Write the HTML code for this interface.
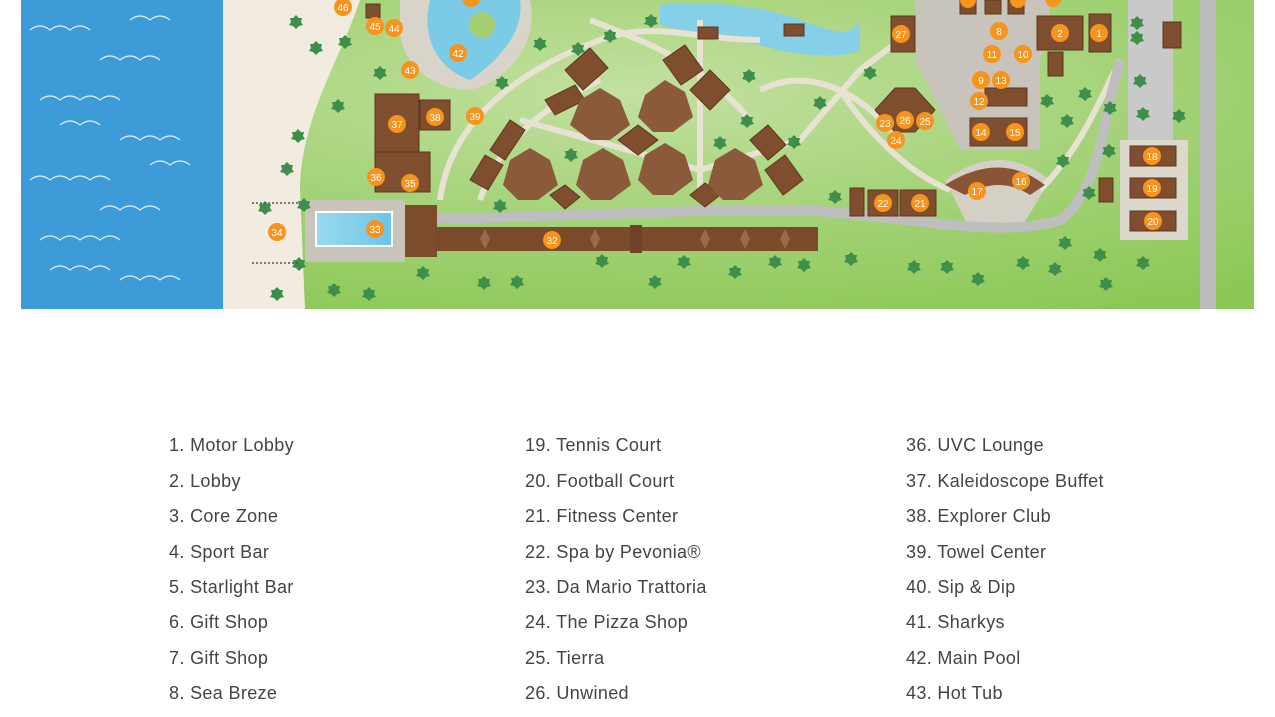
<!DOCTYPE html>
<html><head><meta charset="utf-8"><style>
html,body{margin:0;padding:0;background:#fff;width:1275px;height:717px;overflow:hidden}
.leg{position:absolute;font-family:"Liberation Sans",sans-serif;font-size:18px;color:#444;font-weight:300;line-height:20px;letter-spacing:0.35px}
.leg div{position:absolute;white-space:nowrap}
</style></head><body>
<svg width="1275" height="717" style="position:absolute;left:0;top:0" xmlns="http://www.w3.org/2000/svg">
<defs>
<radialGradient id="g" cx="0.5" cy="0.3" r="0.8"><stop offset="0" stop-color="#c3e0a0"/><stop offset="0.6" stop-color="#9fd071"/><stop offset="1" stop-color="#8cc856"/></radialGradient>
<linearGradient id="pool" x1="0" x2="1"><stop offset="0" stop-color="#9ad8ef"/><stop offset="1" stop-color="#6cc6e8"/></linearGradient>
<path id="t" d="M0 -6 l3 3 3 0 -1 4 2 3 -4 1 -3 3 -3 -3 -4 -1 2 -3 -1 -4 3 0z"/>
</defs>
<rect x="21" y="0" width="1233" height="309" fill="url(#g)"/>
<rect x="21" y="0" width="202" height="309" fill="#3d9bd7"/>
<path d="M223 0 L360 0 C340 60 300 120 300 190 L305 309 L223 309 Z" fill="#f2ece0"/>
<g stroke="#fff" stroke-width="1.2" fill="none" opacity="0.85">
<path d="M30 30 q10 -8 20 0 q10 -8 20 0 q10 -8 20 0 M100 60 q10 -8 20 0 q10 -8 20 0 q10 -8 20 0 M40 100 q10 -8 20 0 q10 -8 20 0 q10 -8 20 0 q10 -8 20 0 M120 140 q10 -8 20 0 q10 -8 20 0 q10 -8 20 0 M30 180 q10 -8 20 0 q10 -8 20 0 q10 -8 20 0 q10 -8 20 0 M100 210 q10 -8 20 0 q10 -8 20 0 q10 -8 20 0 M40 240 q10 -8 20 0 q10 -8 20 0 q10 -8 20 0 q10 -8 20 0 M120 280 q10 -8 20 0 q10 -8 20 0 q10 -8 20 0 M130 20 q10 -8 20 0 q10 -8 20 0 M60 125 q10 -8 20 0 q10 -8 20 0 M150 165 q10 -8 20 0 q10 -8 20 0 M50 270 q10 -8 20 0 q10 -8 20 0 q10 -8 20 0"/>
</g>
<rect x="1200" y="0" width="16" height="309" fill="#bcbcbc"/>
<rect x="1128" y="0" width="45" height="140" fill="#c9c9c9"/>
<path d="M915 0 L1050 0 L1050 30 L1040 60 L1040 150 L960 150 L940 110 L915 60 Z" fill="#c8c4bb"/>
<path d="M945 180 Q1000 140 1050 180 L1020 230 L970 230 Z" fill="#d5d0c6"/>
<rect x="1120" y="140" width="68" height="100" fill="#ddd8cc"/>
<path d="M400 0 L530 0 C540 40 510 80 470 90 C430 90 400 60 400 30Z" fill="#d9d4ca"/>
<path d="M430 0 L520 0 C525 30 500 60 470 80 C440 70 420 40 430 0Z" fill="#7ccbe6"/>
<circle cx="482" cy="25" r="13" fill="#a6cf72"/>
<path d="M660 5 C700 0 760 5 800 20 C830 30 850 40 860 20 L860 50 C840 60 790 55 760 45 C720 40 680 30 660 25 Z" fill="#86cfe8"/>
<g stroke="#e8e2d2" stroke-width="6" fill="none">
<path d="M440 200 C450 120 520 70 600 40 C650 20 700 40 760 40"/>
<path d="M480 200 C500 140 540 110 600 80"/>
<path d="M520 120 L700 170 L800 140 L860 70 L900 40"/>
<path d="M700 20 L700 200"/>
<path d="M760 90 C800 70 850 80 900 140"/>
<path d="M590 20 C640 40 700 60 750 120"/>
<path d="M840 90 C860 120 900 170 950 190"/>
<path d="M1040 190 C1080 150 1100 100 1120 60"/>
</g>
<path d="M420 215 C430 225 600 210 800 210 C900 215 1000 240 1060 220 C1090 200 1100 150 1110 100 L1120 60" stroke="#bebebe" stroke-width="10" fill="none"/>
<rect x="305" y="200" width="100" height="62" fill="#c9c5bd"/>
<rect x="316" y="212" width="76" height="34" fill="url(#pool)" stroke="#fff" stroke-width="2"/>
<rect x="405" y="205" width="32" height="52" fill="#7d4c2c"/>
<rect x="435" y="227" width="383" height="24" fill="#7a4a2a"/>
<g fill="#9a6b48"><path d="M480 239 l5 -10 5 10 -5 10z M590 239 l5 -10 5 10 -5 10z M700 239 l5 -10 5 10 -5 10z M740 239 l5 -10 5 10 -5 10z M780 239 l5 -10 5 10 -5 10z"/></g>
<rect x="630" y="225" width="12" height="28" fill="#6e4226"/>
<g fill="#7f4e2e" stroke="#5e371e" stroke-width="1">
<rect x="375" y="94" width="44" height="60"/><rect x="420" y="100" width="30" height="30"/>
<rect x="375" y="152" width="55" height="40"/>
<rect x="366" y="4" width="14" height="14"/>
<path d="M490 150 l20 -30 15 10 -20 30z M470 180 l15 -25 18 10 -15 25z M545 100 l30 -15 10 15 -30 15z M565 70 l25 -22 18 20 -25 22z M663 60 l22 -15 18 25 -22 15z M690 90 l20 -20 20 20 -20 20z M750 140 l18 -15 18 20 -18 15z M765 170 l20 -15 18 25 -20 15z M550 195 l15 -10 15 12 -15 12z M690 195 l15 -12 15 12 -15 12z M618 140 l20 -15 20 15 -20 15z"/>
<rect x="698" y="27" width="20" height="12"/><rect x="784" y="24" width="20" height="12"/>
<rect x="891" y="16" width="24" height="36"/>
<rect x="1037" y="16" width="46" height="34"/><rect x="1089" y="14" width="22" height="38"/><rect x="1048" y="52" width="15" height="24"/>
<rect x="1163" y="22" width="18" height="26"/>
<rect x="970" y="118" width="57" height="28"/>
<rect x="850" y="188" width="14" height="28"/><rect x="868" y="190" width="30" height="26"/><rect x="900" y="190" width="36" height="26"/>
<rect x="1099" y="178" width="14" height="24"/>
<rect x="1130" y="146" width="46" height="20"/><rect x="1130" y="178" width="46" height="20"/><rect x="1130" y="211" width="46" height="20"/>
<rect x="985" y="0" width="16" height="14"/><rect x="1008" y="0" width="16" height="14"/><rect x="960" y="0" width="16" height="14"/>
<rect x="985" y="88" width="42" height="18"/>
<path d="M875 110 l20 -22 20 0 20 22 -20 22 -20 0z"/>
</g>
<g fill="#8b5a3b">
<path d="M580 100 l20 -12 20 12 10 25 -20 15 -20 0 -20 -15z"/><path d="M645 95 l20 -15 20 12 8 25 -20 15 -20 0 -15 -15z"/>
<path d="M510 160 l20 -12 20 12 8 25 -20 15 -20 0 -15 -15z"/><path d="M583 160 l20 -12 20 12 8 25 -20 15 -20 0 -15 -15z"/>
<path d="M645 155 l20 -12 20 12 8 25 -20 15 -20 0 -15 -15z"/><path d="M715 160 l20 -12 20 12 8 25 -20 15 -20 0 -15 -15z"/>
<path d="M945 185 Q1000 150 1045 185 L1030 195 Q1000 175 965 195Z" fill="#8a5535"/>
</g>
<g fill="#3f8f4c">
<use href="#t" x="296" y="21"/><use href="#t" x="316" y="47"/><use href="#t" x="345" y="41"/><use href="#t" x="338" y="105"/><use href="#t" x="298" y="135"/><use href="#t" x="287" y="168"/><use href="#t" x="265" y="207"/><use href="#t" x="304" y="204"/><use href="#t" x="299" y="263"/><use href="#t" x="277" y="293"/><use href="#t" x="334" y="289"/><use href="#t" x="369" y="293"/><use href="#t" x="423" y="272"/><use href="#t" x="484" y="282"/><use href="#t" x="517" y="281"/><use href="#t" x="602" y="260"/><use href="#t" x="655" y="281"/><use href="#t" x="684" y="261"/><use href="#t" x="735" y="271"/><use href="#t" x="775" y="261"/><use href="#t" x="804" y="264"/><use href="#t" x="851" y="258"/><use href="#t" x="914" y="266"/><use href="#t" x="947" y="266"/><use href="#t" x="978" y="278"/><use href="#t" x="1023" y="262"/><use href="#t" x="1055" y="268"/><use href="#t" x="1100" y="254"/><use href="#t" x="1143" y="262"/><use href="#t" x="1106" y="283"/><use href="#t" x="1065" y="242"/><use href="#t" x="380" y="72"/><use href="#t" x="502" y="82"/><use href="#t" x="540" y="43"/><use href="#t" x="578" y="48"/><use href="#t" x="610" y="35"/><use href="#t" x="651" y="20"/><use href="#t" x="749" y="75"/><use href="#t" x="820" y="102"/><use href="#t" x="870" y="72"/><use href="#t" x="720" y="142"/><use href="#t" x="794" y="141"/><use href="#t" x="747" y="120"/><use href="#t" x="571" y="154"/><use href="#t" x="500" y="205"/><use href="#t" x="835" y="196"/><use href="#t" x="1047" y="100"/><use href="#t" x="1067" y="120"/><use href="#t" x="1085" y="93"/><use href="#t" x="1109" y="150"/><use href="#t" x="1089" y="192"/><use href="#t" x="1063" y="160"/><use href="#t" x="1137" y="22"/><use href="#t" x="1137" y="37"/><use href="#t" x="1110" y="107"/><use href="#t" x="1179" y="115"/><use href="#t" x="1143" y="113"/><use href="#t" x="1140" y="80"/>
</g>
<g stroke="#555" stroke-width="1.5" stroke-dasharray="2 2"><path d="M252 203 H300 M252 263 H300"/></g>
<g font-family="Liberation Sans,sans-serif" font-size="10" fill="#fff" text-anchor="middle">
<g fill="#f7941d">
<circle cx="343" cy="7" r="9"/><circle cx="375" cy="26" r="9"/><circle cx="394" cy="28" r="9"/><circle cx="410" cy="70" r="9"/><circle cx="458" cy="53" r="9"/><circle cx="471" cy="-2" r="9"/><circle cx="475" cy="116" r="9"/><circle cx="435" cy="117" r="9"/><circle cx="397" cy="124" r="9"/><circle cx="376" cy="177" r="9"/><circle cx="410" cy="183" r="9"/><circle cx="277" cy="232" r="9"/><circle cx="375" cy="229" r="9"/><circle cx="552" cy="240" r="9"/><circle cx="901" cy="34" r="9"/><circle cx="1060" cy="33" r="9"/><circle cx="1099" cy="33" r="9"/><circle cx="999" cy="31" r="9"/><circle cx="992" cy="54" r="9"/><circle cx="1023" cy="54" r="9"/><circle cx="981" cy="80" r="9"/><circle cx="1001" cy="80" r="9"/><circle cx="979" cy="101" r="9"/><circle cx="981" cy="132" r="9"/><circle cx="1015" cy="132" r="9"/><circle cx="885" cy="123" r="9"/><circle cx="905" cy="120" r="9"/><circle cx="925" cy="121" r="9"/><circle cx="896" cy="140" r="9"/><circle cx="1021" cy="181" r="9"/><circle cx="977" cy="191" r="9"/><circle cx="883" cy="203" r="9"/><circle cx="920" cy="203" r="9"/><circle cx="1152" cy="156" r="9"/><circle cx="1152" cy="188" r="9"/><circle cx="1153" cy="221" r="9"/><circle cx="968" cy="0" r="8"/><circle cx="1018" cy="0" r="8"/><circle cx="1053" cy="-1" r="8"/>
</g>
<text x="343" y="11">46</text><text x="375" y="30">45</text><text x="394" y="32">44</text><text x="410" y="74">43</text><text x="458" y="57">42</text><text x="475" y="120">39</text><text x="435" y="121">38</text><text x="397" y="128">37</text><text x="376" y="181">36</text><text x="410" y="187">35</text><text x="277" y="236">34</text><text x="375" y="233">33</text><text x="552" y="244">32</text><text x="901" y="38">27</text><text x="1060" y="37">2</text><text x="1099" y="37">1</text><text x="999" y="35">8</text><text x="992" y="58">11</text><text x="1023" y="58">10</text><text x="981" y="84">9</text><text x="1001" y="84">13</text><text x="979" y="105">12</text><text x="981" y="136">14</text><text x="1015" y="136">15</text><text x="885" y="127">23</text><text x="905" y="124">26</text><text x="925" y="125">25</text><text x="896" y="144">24</text><text x="1021" y="185">16</text><text x="977" y="195">17</text><text x="883" y="207">22</text><text x="920" y="207">21</text><text x="1152" y="160">18</text><text x="1152" y="192">19</text><text x="1153" y="225">20</text>
</g>
</svg>
<div class="leg">
<div style="left:169px;top:435px">1. Motor Lobby</div><div style="left:169px;top:471px">2. Lobby</div><div style="left:169px;top:506px">3. Core Zone</div><div style="left:169px;top:542px">4. Sport Bar</div><div style="left:169px;top:577px">5. Starlight Bar</div><div style="left:169px;top:612px">6. Gift Shop</div><div style="left:169px;top:648px">7. Gift Shop</div><div style="left:169px;top:683px">8. Sea Breze</div>
<div style="left:525px;top:435px">19. Tennis Court</div><div style="left:525px;top:471px">20. Football Court</div><div style="left:525px;top:506px">21. Fitness Center</div><div style="left:525px;top:542px">22. Spa by Pevonia®</div><div style="left:525px;top:577px">23. Da Mario Trattoria</div><div style="left:525px;top:612px">24. The Pizza Shop</div><div style="left:525px;top:648px">25. Tierra</div><div style="left:525px;top:683px">26. Unwined</div>
<div style="left:906px;top:435px">36. UVC Lounge</div><div style="left:906px;top:471px">37. Kaleidoscope Buffet</div><div style="left:906px;top:506px">38. Explorer Club</div><div style="left:906px;top:542px">39. Towel Center</div><div style="left:906px;top:577px">40. Sip &amp; Dip</div><div style="left:906px;top:612px">41. Sharkys</div><div style="left:906px;top:648px">42. Main Pool</div><div style="left:906px;top:683px">43. Hot Tub</div>
</div>
</body></html>
